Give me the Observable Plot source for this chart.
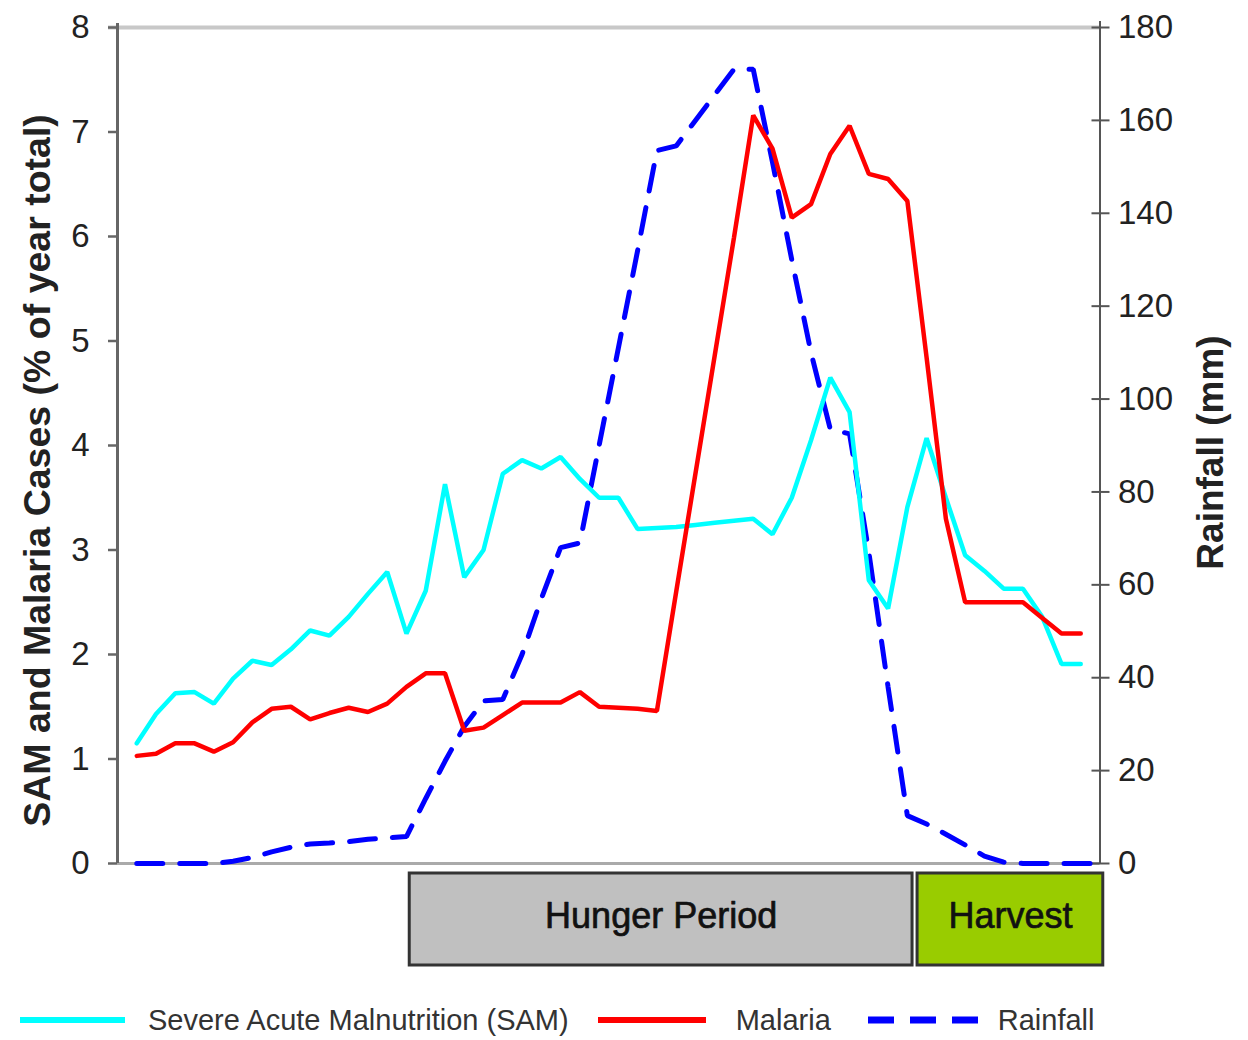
<!DOCTYPE html>
<html>
<head>
<meta charset="utf-8">
<script src="https://cdn.jsdelivr.net/npm/d3@7"></script>
<script src="https://cdn.jsdelivr.net/npm/@observablehq/plot@0.6"></script>
<style>
  html, body { margin: 0; padding: 0; background: #fff; }
  #wrap { width: 1248px; height: 1040px; overflow: hidden; }
  #wrap svg { display: block; }
  .legend { display: flex; align-items: center; height: 40px; margin-top: 30px;
            font-family: "Liberation Sans", Arial, sans-serif;
            font-size: 29px; color: #333; white-space: nowrap; }
  .sw { flex: none; }
</style>
</head>
<body>
<div id="wrap"></div>
<script>
// ---------------- data ----------------
const weeks = [1,2,3,4,5,6,7,8,9,10,11,12,13,14,15,16,17,18,19,20,21,22,23,24,25,
               26,27,28,29,30,31,32,33,34,35,36,37,38,39,40,41,42,43,44,45,46,47,48,49,50];
const sam = [1.15,1.43,1.63,1.64,1.53,1.77,1.94,1.90,2.05,2.23,
             2.18,2.36,2.58,2.79,2.20,2.61,3.63,2.74,3.00,3.73,
             3.86,3.78,3.89,3.68,3.50,3.50,3.20,3.21,3.22,3.24,
             3.26,3.28,3.30,3.15,3.50,4.05,4.65,4.32,2.71,2.44,
             3.41,4.07,3.50,2.95,2.80,2.63,2.63,2.36,1.91,1.91];
const malaria = [1.03,1.05,1.15,1.15,1.07,1.16,1.35,1.48,1.50,1.38,
                 1.44,1.49,1.45,1.53,1.69,1.82,1.82,1.27,1.30,1.42,
                 1.54,1.54,1.54,1.64,1.50,1.49,1.48,1.46,2.60,3.73,
                 4.86,5.99,7.16,6.84,6.18,6.31,6.79,7.06,6.60,6.55,
                 6.34,4.84,3.30,2.50,2.50,2.50,2.50,2.35,2.20,2.20];
const rainWeeks = [1,2,3,4,5,6,7,8,9,10,11,12,13,14,15,16,17,18,19,20,21,22,23,24,25,
                   26,27,28,29,30,31,32,33,34,35,36,37,38,39,40,41,42,43,44,45,46,47,48,49,50,51];
const rainfall = [0,0,0,0,0,0.5,1.3,2.5,3.5,4.2,
                  4.4,4.7,5.2,5.5,5.8,14,22,29.5,35,35.3,
                  45,57,68,69,90,111,132,153.5,154.5,160,
                  165.5,171,171,151,130,110,93.5,92.5,67,38,
                  10.3,8.5,6.3,4,1.6,0.3,0,0,0,0,0];
const leftTicks = [0,1,2,3,4,5,6,7,8];
const rainTicks = [0,20,40,60,80,100,120,140,160,180];
const periods = ["Hunger Period", "Harvest"];
const periodStart = [15.17, 41.53];
const periodEnd = [41.27, 51.17];
const periodFill = ["#c0c0c0", "#99cc00"];
const leftTitle = "SAM and Malaria Cases (% of year total)";
const rightTitle = "Rainfall (mm)";
const seriesNames = ["Severe Acute Malnutrition (SAM)", "Malaria", "Rainfall"];
const seriesColors = ["#00ffff", "#ff0000", "#0000ff"];
const xDomain = [0, 51];
const yMax = 8, rainMax = 180;
// ---------------------------------------

const toLeft = v => v * yMax / rainMax;
const W = 1248, ML = 117, MR = 148.5;
const font = "'Liberation Sans', Arial, sans-serif";

const main = Plot.plot({
  width: W, height: 870,
  marginTop: 27, marginBottom: 7, marginLeft: ML, marginRight: MR,
  x: {domain: xDomain, axis: null},
  y: {domain: [0, yMax], axis: null},
  style: {fontFamily: font, fontSize: "33px", color: "#222", background: "#fff", overflow: "visible"},
  marks: [
    Plot.ruleY([yMax], {stroke: "#c8c8c8", strokeWidth: 4, insetLeft: -9}),
    Plot.ruleY([0], {stroke: "#aaa", strokeWidth: 3}),
    Plot.ruleX([xDomain[0]], {stroke: "#666", strokeWidth: 3, insetTop: -4}),
    Plot.ruleX([xDomain[1]], {stroke: "#555", strokeWidth: 2, insetTop: -6}),
    Plot.axisY(leftTicks, {anchor: "left", tickSize: 9, tickPadding: 19, label: null,
                           tickFormat: d => String(d), stroke: "#666", strokeWidth: 2.5, fill: "#222"}),
    Plot.axisY(rainTicks.map(toLeft), {anchor: "right", tickSize: 0, tickPadding: 18, label: null,
                           tickFormat: d => String(Math.round(d * rainMax / yMax)), fill: "#222"}),
    Plot.axisY(rainTicks.map(toLeft), {anchor: "right", tickSize: 18, dx: -9, label: null,
                           fill: "none", stroke: "#555", strokeWidth: 2}),
    Plot.line(rainfall, {x: rainWeeks, y: rainfall.map(toLeft), stroke: seriesColors[2],
                         strokeWidth: 5, strokeDasharray: "26,17", strokeLinejoin: "miter"}),
    Plot.line(sam, {x: weeks, y: sam, stroke: seriesColors[0], strokeWidth: 4.5, strokeLinejoin: "miter"}),
    Plot.line(malaria, {x: weeks, y: malaria, stroke: seriesColors[1], strokeWidth: 4.5, strokeLinejoin: "miter"}),
    Plot.text([leftTitle], {text: d => d, frameAnchor: "left", textAnchor: "middle", rotate: -90, dx: -80, dy: 25,
                            fontSize: 37.5, fontWeight: "bold", fill: "#222"}),
    Plot.text([rightTitle], {text: d => d, frameAnchor: "right", textAnchor: "middle", rotate: -90, dx: 111, dy: 7,
                             fontSize: 37, fontWeight: "bold", fill: "#222"})
  ]
});

const mids = periodStart.map((s, i) => (s + periodEnd[i]) / 2);
const bands = Plot.plot({
  width: W, height: 100,
  marginTop: 3, marginBottom: 5, marginLeft: ML, marginRight: MR,
  x: {domain: xDomain, axis: null},
  y: {axis: null},
  color: {type: "identity"},
  style: {fontFamily: font, background: "#fff", overflow: "visible"},
  marks: [
    Plot.rect(periods, {x1: periodStart, x2: periodEnd, fill: periodFill, stroke: "#333", strokeWidth: 3}),
    Plot.text(periods, {x: mids, text: d => d, frameAnchor: "middle", fontSize: 36, dy: -3,
                        fill: "#111", stroke: "#111", strokeWidth: 0.7})
  ]
});

const wrap = document.getElementById("wrap");
wrap.appendChild(main);
wrap.appendChild(bands);

// legend
const legend = document.createElement("div");
legend.className = "legend";
function swatch(color, dashed, width, ml) {
  const ns = "http://www.w3.org/2000/svg";
  const s = document.createElementNS(ns, "svg");
  s.setAttribute("width", width); s.setAttribute("height", 10);
  s.setAttribute("class", "sw");
  s.style.marginLeft = ml + "px";
  const l = document.createElementNS(ns, "line");
  l.setAttribute("x1", 0); l.setAttribute("x2", width);
  l.setAttribute("y1", 5); l.setAttribute("y2", 5);
  l.setAttribute("stroke", color); l.setAttribute("stroke-width", dashed ? 7 : 6);
  if (dashed) l.setAttribute("stroke-dasharray", "26,16");
  s.appendChild(l);
  return s;
}
function label(t, ml) {
  const sp = document.createElement("span");
  sp.textContent = t; sp.style.marginLeft = ml + "px";
  return sp;
}
legend.appendChild(swatch(seriesColors[0], false, 105, 20));
legend.appendChild(label(seriesNames[0], 23));
legend.appendChild(swatch(seriesColors[1], false, 108, 29));
legend.appendChild(label(seriesNames[1], 30));
legend.appendChild(swatch(seriesColors[2], true, 110, 37));
legend.appendChild(label(seriesNames[2], 20));
wrap.appendChild(legend);
</script>
</body>
</html>
